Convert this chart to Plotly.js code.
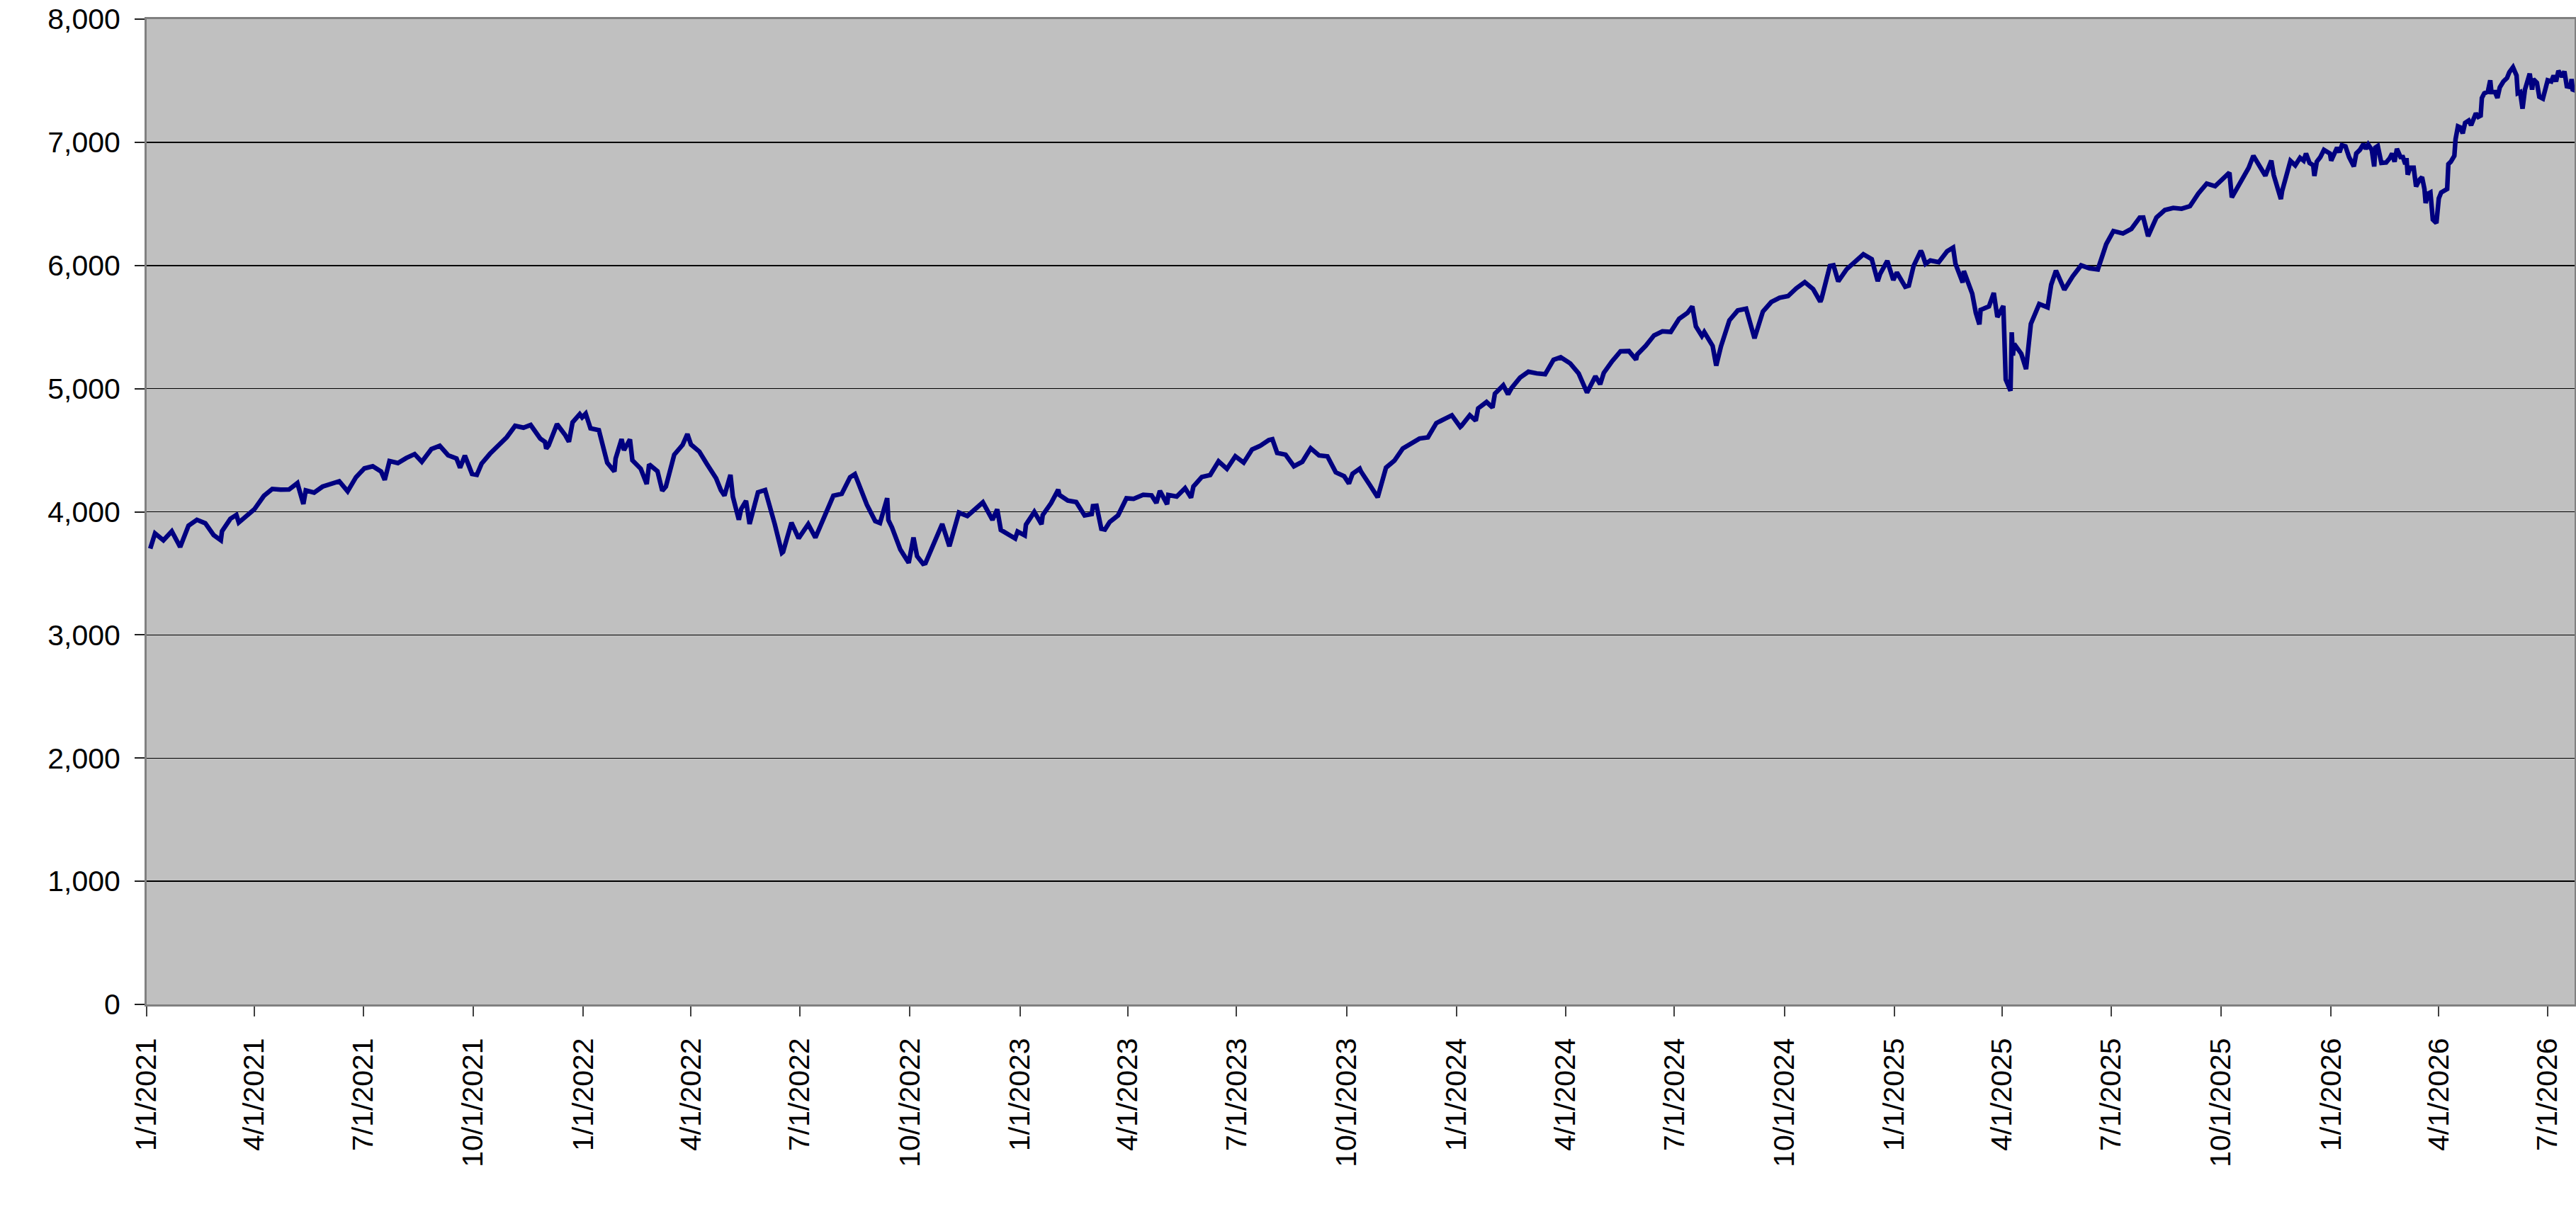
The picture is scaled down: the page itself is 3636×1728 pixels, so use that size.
<!DOCTYPE html>
<html>
<head>
<meta charset="utf-8">
<script src="https://cdn.plot.ly/plotly-3.0.1.min.js"></script>
<style>
  html, body { margin: 0; padding: 0; background: #fff; }
  #grafico { width: 3636px; height: 1728px; }
</style>
</head>
<body>
<div id="grafico"></div>
<script>
// daily/weekly closes
const dates = [
  '2021-01-04','2021-01-08','2021-01-15','2021-01-22','2021-01-27','2021-01-29','2021-02-05','2021-02-12','2021-02-19','2021-02-25',
  '2021-02-26','2021-03-04','2021-03-05','2021-03-12','2021-03-17','2021-03-19','2021-03-26','2021-04-01','2021-04-09','2021-04-16',
  '2021-04-23','2021-04-30','2021-05-07','2021-05-12','2021-05-14','2021-05-21','2021-05-28','2021-06-04','2021-06-11','2021-06-18',
  '2021-06-25','2021-07-02','2021-07-09','2021-07-16','2021-07-19','2021-07-23','2021-07-30','2021-08-06','2021-08-13','2021-08-19',
  '2021-08-27','2021-09-03','2021-09-10','2021-09-17','2021-09-20','2021-09-24','2021-09-30','2021-10-04','2021-10-08','2021-10-15',
  '2021-10-22','2021-10-29','2021-11-05','2021-11-12','2021-11-18','2021-11-26','2021-11-30','2021-12-01','2021-12-03','2021-12-10',
  '2021-12-17','2021-12-20','2021-12-23','2021-12-29','2021-12-31',
  '2022-01-03','2022-01-07','2022-01-14','2022-01-21','2022-01-27','2022-01-28','2022-02-02','2022-02-04','2022-02-09','2022-02-11',
  '2022-02-18','2022-02-23','2022-02-25','2022-03-04','2022-03-08','2022-03-11','2022-03-18','2022-03-25','2022-03-29','2022-04-01',
  '2022-04-08','2022-04-14','2022-04-22','2022-04-26','2022-04-29','2022-05-04','2022-05-06','2022-05-11','2022-05-13','2022-05-17',
  '2022-05-20','2022-05-27','2022-06-02','2022-06-10','2022-06-16','2022-06-17','2022-06-24','2022-06-30','2022-07-08','2022-07-14',
  '2022-07-22','2022-07-29','2022-08-05','2022-08-12','2022-08-16','2022-08-19','2022-08-26','2022-09-02','2022-09-06','2022-09-12',
  '2022-09-13','2022-09-16','2022-09-23','2022-09-30','2022-10-04','2022-10-07','2022-10-12','2022-10-14','2022-10-21','2022-10-28',
  '2022-11-03','2022-11-11','2022-11-18','2022-11-25','2022-12-01','2022-12-09','2022-12-13','2022-12-16','2022-12-22','2022-12-28',
  '2022-12-30',
  '2023-01-05','2023-01-06','2023-01-13','2023-01-19','2023-01-20','2023-01-27','2023-02-02','2023-02-03','2023-02-10','2023-02-17',
  '2023-02-24','2023-03-02','2023-03-03','2023-03-06','2023-03-10','2023-03-13','2023-03-17','2023-03-24','2023-03-31','2023-04-06',
  '2023-04-14','2023-04-21','2023-04-25','2023-04-28','2023-05-04','2023-05-05','2023-05-12','2023-05-19','2023-05-24','2023-05-26',
  '2023-06-02','2023-06-09','2023-06-16','2023-06-23','2023-06-30','2023-07-07','2023-07-14','2023-07-21','2023-07-28','2023-07-31',
  '2023-08-04','2023-08-11','2023-08-18','2023-08-25','2023-09-01','2023-09-08','2023-09-15','2023-09-22','2023-09-29','2023-10-03',
  '2023-10-06','2023-10-12','2023-10-13','2023-10-20','2023-10-27','2023-11-03','2023-11-10','2023-11-17','2023-11-24','2023-12-01',
  '2023-12-08','2023-12-15','2023-12-22','2023-12-28','2023-12-29',
  '2024-01-04','2024-01-05','2024-01-12','2024-01-17','2024-01-19','2024-01-26','2024-01-31','2024-02-02','2024-02-09','2024-02-13',
  '2024-02-16','2024-02-23','2024-03-01','2024-03-08','2024-03-15','2024-03-22','2024-03-28','2024-04-05','2024-04-12','2024-04-19',
  '2024-04-26','2024-04-30','2024-05-03','2024-05-10','2024-05-17','2024-05-24','2024-05-30','2024-05-31','2024-06-07','2024-06-14',
  '2024-06-21','2024-06-28','2024-07-05','2024-07-12','2024-07-16','2024-07-19','2024-07-24','2024-07-26','2024-08-02','2024-08-05',
  '2024-08-09','2024-08-16','2024-08-23','2024-08-30','2024-09-06','2024-09-13','2024-09-20','2024-09-27','2024-10-04','2024-10-11',
  '2024-10-18','2024-10-25','2024-10-31','2024-11-01','2024-11-08','2024-11-11','2024-11-15','2024-11-22','2024-11-29','2024-12-06',
  '2024-12-13','2024-12-18','2024-12-20','2024-12-26','2024-12-31',
  '2025-01-03','2025-01-10','2025-01-13','2025-01-17','2025-01-23','2025-01-24','2025-01-27','2025-01-31','2025-02-07','2025-02-14',
  '2025-02-19','2025-02-21','2025-02-27','2025-02-28','2025-03-07','2025-03-10','2025-03-13','2025-03-14','2025-03-21','2025-03-25',
  '2025-03-28','2025-04-02','2025-04-04','2025-04-08','2025-04-09','2025-04-10','2025-04-11','2025-04-17','2025-04-21','2025-04-25',
  '2025-05-02','2025-05-09','2025-05-12','2025-05-16','2025-05-23','2025-05-30','2025-06-06','2025-06-13','2025-06-20','2025-06-27',
  '2025-07-03','2025-07-11','2025-07-18','2025-07-25','2025-07-28','2025-08-01','2025-08-08','2025-08-15','2025-08-22','2025-08-29',
  '2025-09-05','2025-09-12','2025-09-19','2025-09-26','2025-10-03','2025-10-08','2025-10-10','2025-10-17','2025-10-24','2025-10-28',
  '2025-10-31','2025-11-04','2025-11-07','2025-11-12','2025-11-14','2025-11-20','2025-11-21','2025-11-28',
  '2025-12-02','2025-12-06','2025-12-09','2025-12-11','2025-12-14','2025-12-17','2025-12-18','2025-12-20','2025-12-23','2025-12-26',
  '2025-12-31','2026-01-01','2026-01-06','2026-01-08','2026-01-10','2026-01-13','2026-01-16','2026-01-20','2026-01-22','2026-01-25',
  '2026-01-28','2026-01-30','2026-02-01','2026-02-04','2026-02-06','2026-02-07','2026-02-09','2026-02-12','2026-02-16','2026-02-19',
  '2026-02-21','2026-02-23','2026-02-25','2026-02-28','2026-03-02','2026-03-04','2026-03-05','2026-03-06','2026-03-08','2026-03-11',
  '2026-03-13','2026-03-16','2026-03-18','2026-03-20','2026-03-21','2026-03-23','2026-03-25','2026-03-27','2026-03-30','2026-04-01',
  '2026-04-03','2026-04-08','2026-04-09','2026-04-11','2026-04-14','2026-04-15','2026-04-17','2026-04-19','2026-04-21','2026-04-23',
  '2026-04-26','2026-04-28','2026-05-02','2026-05-04','2026-05-06','2026-05-07','2026-05-09','2026-05-12','2026-05-14','2026-05-15',
  '2026-05-18','2026-05-20','2026-05-22','2026-05-25','2026-05-28','2026-05-30','2026-06-02','2026-06-05','2026-06-06','2026-06-08',
  '2026-06-10','2026-06-12','2026-06-16','2026-06-18','2026-06-19','2026-06-22','2026-06-24','2026-06-27','2026-06-29','2026-07-01',
  '2026-07-04','2026-07-06','2026-07-08','2026-07-10','2026-07-13','2026-07-15','2026-07-17','2026-07-20','2026-07-21','2026-07-22',
  '2026-07-23'
];
const closes = [
  3700.65,3824.68,3768.25,3841.47,3750.77,3714.24,3886.83,3934.83,3906.71,3829.34,
  3811.15,3768.47,3841.94,3943.34,3974.12,3913.10,3974.54,4019.87,4128.80,4185.47,
  4180.17,4181.17,4232.60,4063.04,4173.85,4155.86,4204.11,4229.89,4247.44,4166.45,
  4280.70,4352.34,4369.55,4327.16,4258.49,4411.79,4395.26,4436.52,4468.00,4405.80,
  4509.37,4535.43,4458.58,4432.99,4357.73,4455.48,4307.54,4300.46,4391.34,4471.37,
  4544.90,4605.38,4697.53,4682.85,4704.54,4594.62,4567.00,4513.04,4538.43,4712.02,
  4620.64,4568.02,4725.79,4793.06,4766.18,
  4796.56,4677.03,4662.85,4397.94,4326.51,4431.85,4589.38,4500.53,4587.18,4418.64,
  4348.87,4225.50,4384.65,4328.87,4170.70,4204.31,4463.12,4543.06,4631.60,4545.86,
  4488.28,4392.59,4271.78,4175.20,4131.93,4300.17,4123.34,3935.18,4023.89,4088.85,
  3901.36,4158.24,4176.82,3900.86,3666.77,3674.84,3911.74,3785.38,3899.38,3790.38,
  3961.63,4130.29,4145.19,4280.15,4305.20,4228.48,4057.66,3924.26,3908.19,4110.41,
  3932.69,3873.33,3693.23,3585.62,3790.93,3639.66,3577.03,3583.07,3752.75,3901.06,
  3719.89,3992.93,3965.34,4026.12,4076.57,3934.38,4019.65,3852.36,3822.39,3783.22,
  3839.50,
  3808.10,3895.08,3999.09,3898.85,3972.61,4070.56,4179.76,4136.48,4090.46,4079.09,
  3970.04,3981.35,4045.64,4048.42,3861.59,3855.76,3916.64,3970.99,4109.31,4105.02,
  4137.64,4133.52,4071.63,4169.48,4061.22,4136.25,4124.08,4191.98,4115.24,4205.45,
  4282.37,4298.86,4409.59,4348.33,4450.38,4398.95,4505.42,4536.34,4582.23,4588.96,
  4478.03,4464.05,4369.71,4405.71,4515.77,4457.49,4450.32,4320.06,4288.05,4229.45,
  4308.50,4349.61,4327.78,4224.16,4117.37,4358.34,4415.24,4514.02,4559.34,4594.63,
  4604.37,4719.19,4754.63,4783.35,4769.83,
  4688.68,4697.24,4783.83,4739.21,4839.81,4890.97,4845.65,4958.61,5026.61,4953.17,
  5005.57,5088.80,5137.08,5123.69,5117.09,5234.18,5254.35,5204.34,5123.41,4967.23,
  5099.96,5035.69,5127.79,5222.68,5303.27,5304.72,5235.48,5277.51,5346.99,5431.60,
  5464.62,5460.48,5567.19,5615.35,5667.20,5505.00,5427.13,5459.10,5346.56,5186.33,
  5344.16,5554.25,5634.61,5648.40,5408.42,5626.02,5702.55,5738.17,5751.07,5815.03,
  5864.67,5808.12,5705.45,5728.80,5995.54,6001.35,5870.62,5969.34,6032.38,6090.27,
  6051.09,5872.16,5930.85,6037.59,5881.63,
  5942.47,5827.04,5836.22,5996.66,6118.71,6101.24,6012.28,6040.53,6025.99,6114.63,
  6144.15,6013.13,5861.57,5954.50,5770.20,5614.56,5521.52,5638.94,5667.56,5776.65,
  5580.94,5670.97,5074.08,4982.77,5456.90,5268.05,5363.36,5282.70,5158.20,5525.21,
  5686.67,5659.91,5844.19,5958.38,5802.82,5911.69,6000.36,5976.97,5967.84,6173.07,
  6279.35,6259.75,6296.79,6388.64,6389.77,6238.01,6389.45,6449.80,6466.91,6460.26,
  6481.50,6584.29,6664.36,6643.70,6715.79,6753.72,6552.51,6664.01,6791.69,6890.89,
  6840.20,6771.55,6728.80,6850.92,6734.11,6538.76,6602.99,6849.09,
  6813,6874,6851,6909,6832,6813,6727,6842,6880,6938,
  6909,6851,6957,6919,6976,6967,6880,6804,6909,6938,
  6986,6947,6982,6938,6804,6957,6970,6832,6836,6871,
  6909,6842,6947,6880,6880,6823,6871,6737,6794,6794,
  6641,6698,6717,6621,6507,6583,6593,6372,6344,6545,
  6593,6621,6823,6842,6890,7024,7129,7120,7072,7158,
  7177,7139,7235,7206,7216,7360,7398,7411,7503,7407,
  7407,7360,7446,7494,7522,7570,7609,7542,7398,7407,
  7273,7427,7557,7427,7513,7484,7369,7354,7427,7503,
  7494,7542,7494,7580,7532,7576,7455,7449,7513,7417,
  7427
];

// axis labels
const tickLabels = [
  '1/1/2021','4/1/2021','7/1/2021','10/1/2021',
  '1/1/2022','4/1/2022','7/1/2022','10/1/2022',
  '1/1/2023','4/1/2023','7/1/2023','10/1/2023',
  '1/1/2024','4/1/2024','7/1/2024','10/1/2024',
  '1/1/2025','4/1/2025','7/1/2025','10/1/2025',
  '1/1/2026','4/1/2026','7/1/2026'
];
const yTicks = [0, 1000, 2000, 3000, 4000, 5000, 6000, 7000, 8000];

// M/D/YYYY -> YYYY-MM-DD
const tickDates = tickLabels.map(function(s) {
  const p = s.split('/');
  return p[2] + '-' + p[0].padStart(2, '0') + '-' + p[1].padStart(2, '0');
});

const fonte = {family: 'Liberation Sans, Arial, sans-serif', size: 41, color: '#000'};

const trace = {
  x: dates,
  y: closes,
  type: 'scatter',
  mode: 'lines',
  line: {color: '#000080', width: 6.5},
  hoverinfo: 'skip'
};

const layout = {
  width: 3636,
  height: 1728,
  margin: {l: 207, r: 2, t: 27, b: 310},
  paper_bgcolor: '#ffffff',
  plot_bgcolor: '#c0c0c0',
  showlegend: false,
  font: fonte,
  xaxis: {
    type: 'date',
    range: ['2021-01-01', '2026-07-23 12:00'],
    tickmode: 'array',
    tickvals: tickDates,
    ticktext: tickLabels,
    tickangle: -90,
    tickfont: fonte,
    ticks: 'outside',
    ticklen: 14,
    tickwidth: 2,
    tickcolor: '#404040',
    ticklabelstandoff: 14,
    showgrid: false,
    zeroline: false,
    showline: true,
    linecolor: '#808080',
    linewidth: 3,
    mirror: true
  },
  yaxis: {
    range: [0, 8000],
    tickmode: 'array',
    tickvals: yTicks,
    tickformat: ',d',
    tickfont: fonte,
    ticks: 'outside',
    ticklen: 14,
    tickwidth: 2,
    tickcolor: '#202020',
    ticklabelstandoff: 12,
    showgrid: true,
    gridcolor: '#000000',
    gridwidth: 1.5,
    zeroline: false,
    showline: true,
    linecolor: '#808080',
    linewidth: 3,
    mirror: true
  }
};

Plotly.newPlot('grafico', [trace], layout, {staticPlot: true, displayModeBar: false});
</script>
</body>
</html>
